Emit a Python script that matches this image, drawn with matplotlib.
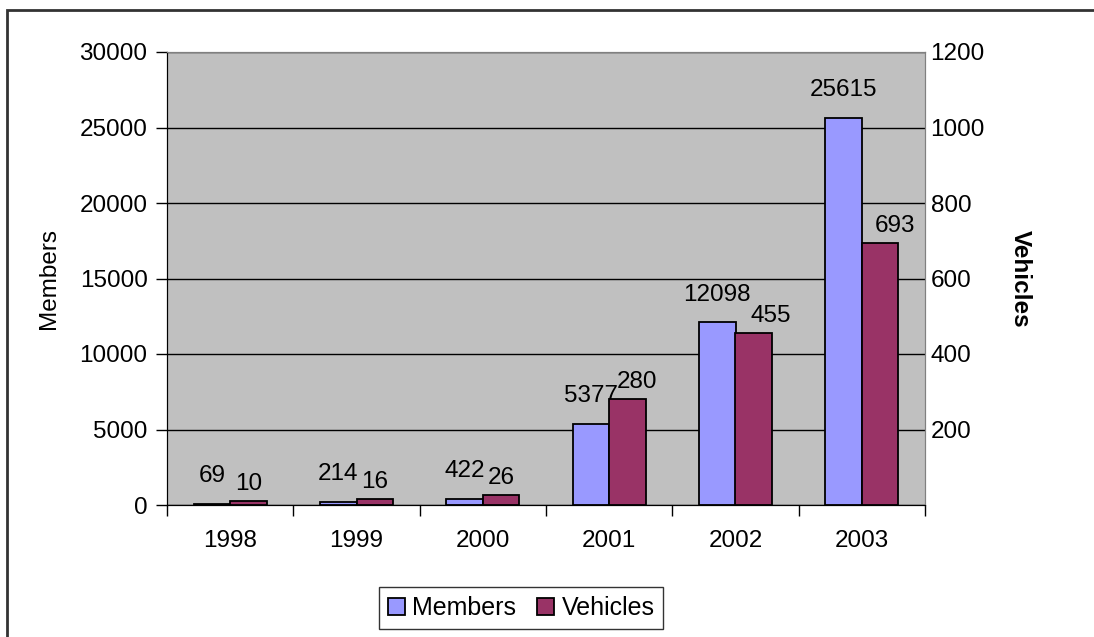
import matplotlib.pyplot as plt
import numpy as np
from matplotlib.patches import Rectangle

# Daten
years = ['1998', '1999', '2000', '2001', '2002', '2003']
members = [69, 214, 422, 5377, 12098, 25615]
vehicles = [10, 16, 26, 280, 455, 693]

left_ticks = [0, 5000, 10000, 15000, 20000, 25000, 30000]
right_ticks = [200, 400, 600, 800, 1000, 1200]

plt.rcParams['font.family'] = ['Liberation Sans', 'DejaVu Sans']
fs = 17.5

fig = plt.figure(figsize=(10.94, 6.37), dpi=100)

# Plotbereich in Pixeln: links 167, rechts 925, oben 52, unten 505
W, H = 1094, 637
ax = fig.add_axes([167 / W, 1 - 505 / H, (925 - 167) / W, (505 - 52) / H])
ax2 = ax.twinx()

ax.set_facecolor('#C0C0C0')
ax.set_zorder(ax2.get_zorder() - 1)
ax2.patch.set_visible(False)

x = np.arange(len(years))
bw = 0.29
b1 = ax.bar(x - bw / 2, members, bw, color='#9999FF', edgecolor='black', linewidth=1.3, zorder=3)
b2 = ax2.bar(x + bw / 2, vehicles, bw, color='#993366', edgecolor='black', linewidth=1.3, zorder=3)

ax.set_xlim(-0.5, len(years) - 0.5)
ax.set_ylim(0, 30000)
ax2.set_ylim(0, 1200)
ax.set_yticks(left_ticks)
ax2.set_yticks(right_ticks)
ax.yaxis.grid(True, color='black', linewidth=1)
ax.set_axisbelow(True)

# Kategorie-Ticks an den Grenzen, Beschriftung in der Mitte
ax.set_xticks(np.arange(len(years) + 1) - 0.5)
ax.set_xticklabels([])
ax.set_xticks(x, minor=True)
ax.set_xticklabels(years, minor=True, fontsize=fs)
ax.tick_params(axis='x', which='major', length=8, width=1, color='black')
ax.tick_params(axis='x', which='minor', length=0, pad=18)
ax.tick_params(axis='y', length=8, width=1, labelsize=fs, pad=6)
ax2.tick_params(axis='y', length=0, labelsize=fs, pad=4)

for a in (ax, ax2):
    a.spines['top'].set_color('#808080')
    a.spines['right'].set_color('#808080')
    a.spines['left'].set_color('black')
    a.spines['bottom'].set_color('black')

ax.set_ylabel('Members', fontsize=fs, labelpad=14)
ax2.set_ylabel('Vehicles', fontsize=fs, fontweight='bold', rotation=270, labelpad=34)

# Datenbeschriftungen (Excel verschiebt die breiteren Vehicles-Labels etwas nach rechts)
veh_label_shift = [0, 0, 0, 7, 12, 11]
for rect, v in zip(b1, members):
    ax.annotate(str(v), (rect.get_x() + rect.get_width() / 2, rect.get_height()),
                xytext=(0, 20), textcoords='offset points', ha='center', va='center', fontsize=fs)
for rect, v, dx in zip(b2, vehicles, veh_label_shift):
    ax2.annotate(str(v), (rect.get_x() + rect.get_width() / 2, rect.get_height()),
                 xytext=(dx, 12.5), textcoords='offset points', ha='center', va='center', fontsize=fs)

# Legende
leg = fig.legend([b1, b2], ['Members', 'Vehicles'], loc='center', bbox_to_anchor=(521 / W, 1 - 608 / H),
                 ncol=2, fontsize=18, frameon=True, fancybox=False, handlelength=0.7, handleheight=0.7,
                 handletextpad=0.3, columnspacing=0.8, borderpad=0.35)
leg.get_frame().set_edgecolor('black')
leg.get_frame().set_linewidth(1)

# Aeusserer Rahmen (rechts und unten abgeschnitten)
fig.patches.append(Rectangle((7 / W, -0.1), 1.2, 1 - 10 / H + 0.1, transform=fig.transFigure,
                             fill=False, edgecolor='#333333', linewidth=2))

fig.savefig('out.png', dpi=100)
